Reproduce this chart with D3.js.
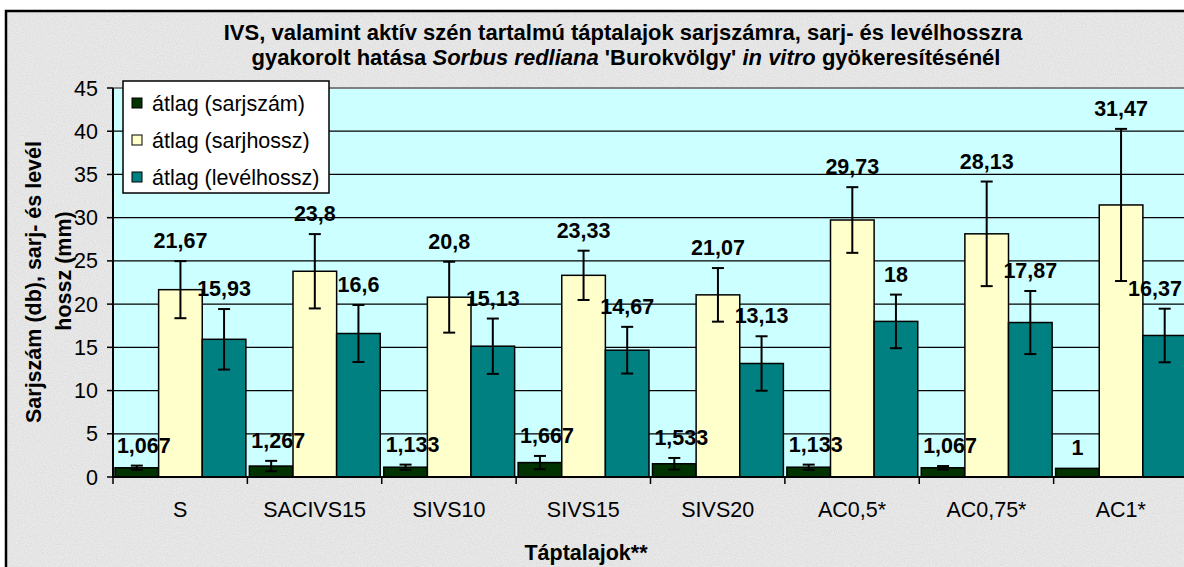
<!DOCTYPE html>
<html>
<head>
<meta charset="utf-8">
<script src="https://cdn.jsdelivr.net/npm/d3@7"></script>
<style>
  body { margin: 0; background: #ffffff; }
  svg text { font-family: "Liberation Sans", Arial, sans-serif; }
</style>
</head>
<body>
<script>
var categories = ['S', 'SACIVS15', 'SIVS10', 'SIVS15', 'SIVS20', 'AC0,5*', 'AC0,75*', 'AC1*'];
var seriesNames = ['átlag (sarjszám)', 'átlag (sarjhossz)', 'átlag (levélhossz)'];
var sarjszam = [1.067, 1.267, 1.133, 1.667, 1.533, 1.133, 1.067, 1];
var sarjhossz = [21.67, 23.8, 20.8, 23.33, 21.07, 29.73, 28.13, 31.47];
var levelhossz = [15.93, 16.6, 15.13, 14.67, 13.13, 18, 17.87, 16.37];
var errSarjszam = [0.25, 0.6, 0.3, 0.77, 0.67, 0.3, 0.2, 0];
var errSarjhossz = [3.3, 4.3, 4.1, 2.85, 3.1, 3.8, 6.05, 8.8];
var errLevelhossz = [3.5, 3.3, 3.2, 2.7, 3.15, 3.1, 3.65, 3.1];
var yTicks = [0, 5, 10, 15, 20, 25, 30, 35, 40, 45];

var colors = ['#003300', '#ffffcc', '#008080'];
var values = [sarjszam, sarjhossz, levelhossz];
var errors = [errSarjszam, errSarjhossz, errLevelhossz];

var W = 1184, H = 567;
var plot = {left: 113, right: 1188, top: 88, bottom: 477};
var FS = 21.5;

function place(x, y, rot) {
  return 'translate(' + x + ',' + y + ')' + (rot ? ' rotate(' + rot + ')' : '');
}

var svg = d3.select('body').append('svg')
    .attr('width', W)
    .attr('height', H);

// textured grey background
var defs = svg.append('defs');
var f = defs.append('filter').attr('id', 'paper')
    .attr('x', 0).attr('y', 0).attr('width', '100%').attr('height', '100%');
f.append('feTurbulence').attr('type', 'fractalNoise')
    .attr('baseFrequency', 0.9).attr('numOctaves', 2).attr('seed', 3);
f.append('feColorMatrix').attr('type', 'matrix')
    .attr('values', '0 0 0 0 0.5  0 0 0 0 0.5  0 0 0 0 0.5  0 0 0 -1.6 1.1');

svg.append('rect').attr('x', 0).attr('y', 0).attr('width', W).attr('height', H).attr('fill', '#ffffff');
svg.append('rect').attr('x', 6).attr('y', 11).attr('width', W).attr('height', H)
    .attr('fill', '#eaeaea');
svg.append('rect').attr('x', 6).attr('y', 11).attr('width', W).attr('height', H)
    .attr('filter', 'url(#paper)').attr('opacity', 0.35);
svg.append('rect').attr('x', 6).attr('y', 11).attr('width', W + 10).attr('height', H + 10)
    .attr('fill', 'none').attr('stroke', '#000').attr('stroke-width', 2.5);

// title
var title = svg.append('g').attr('font-weight', 'bold').attr('font-size', 22).attr('text-anchor', 'middle');
title.append('text').attr('transform', place(623, 40))
    .text('IVS, valamint aktív szén tartalmú táptalajok sarjszámra, sarj- és levélhosszra');
var t2 = title.append('text').attr('transform', place(626, 65));
t2.append('tspan').text('gyakorolt hatása ');
t2.append('tspan').attr('font-style', 'italic').text('Sorbus redliana');
t2.append('tspan').text(" 'Burokvölgy' ");
t2.append('tspan').attr('font-style', 'italic').text('in vitro');
t2.append('tspan').text(' gyökeresítésénél');

// scales
var y = d3.scaleLinear().domain([0, 45]).range([plot.bottom, plot.top]);
var x0 = d3.scaleBand().domain(categories).range([plot.left, plot.right]);
var x1 = d3.scaleBand().domain(d3.range(3)).range([2, x0.bandwidth() - 1.5]);

// plot area
svg.append('rect')
    .attr('x', plot.left).attr('y', plot.top)
    .attr('width', plot.right - plot.left).attr('height', plot.bottom - plot.top)
    .attr('fill', '#ccffff');

svg.append('g').selectAll('line')
  .data(yTicks.filter(function(t){ return t > 0 && t < 45; }))
  .enter().append('line')
    .attr('x1', plot.left).attr('x2', plot.right)
    .attr('y1', function(d){ return y(d); }).attr('y2', function(d){ return y(d); })
    .attr('stroke', '#000').attr('stroke-width', 1.3);

svg.append('line')
    .attr('x1', plot.left).attr('x2', plot.right)
    .attr('y1', plot.top).attr('y2', plot.top)
    .attr('stroke', '#808080').attr('stroke-width', 2);

// bars
var groups = svg.append('g').selectAll('g')
  .data(categories)
  .enter().append('g')
    .attr('transform', function(d){ return 'translate(' + x0(d) + ',0)'; });

function rows(d, i) {
  return values.map(function(v, s){ return {s: s, v: v[i], e: errors[s][i], gx: x0(d)}; });
}

groups.selectAll('rect')
  .data(rows)
  .enter().append('rect')
    .attr('x', function(d){ return x1(d.s); })
    .attr('y', function(d){ return y(d.v); })
    .attr('width', x1.bandwidth())
    .attr('height', function(d){ return y(0) - y(d.v); })
    .attr('fill', function(d){ return colors[d.s]; })
    .attr('stroke', '#000').attr('stroke-width', 1.5);

// error bars
var eb = groups.selectAll('g.err')
  .data(rows)
  .enter().append('g').attr('class', 'err')
    .attr('stroke', '#000').attr('stroke-width', 2);
eb.filter(function(d){ return d.e > 0; }).append('line')
    .attr('x1', function(d){ return x1(d.s) + x1.bandwidth() / 2; })
    .attr('x2', function(d){ return x1(d.s) + x1.bandwidth() / 2; })
    .attr('y1', function(d){ return y(d.v + d.e); })
    .attr('y2', function(d){ return y(d.v - d.e); });
eb.filter(function(d){ return d.e > 0; }).selectAll('line.cap')
  .data(function(d){ return [d.v + d.e, d.v - d.e].map(function(c){ return {s: d.s, c: c}; }); })
  .enter().append('line').attr('class', 'cap')
    .attr('x1', function(d){ return x1(d.s) + x1.bandwidth() / 2 - 6; })
    .attr('x2', function(d){ return x1(d.s) + x1.bandwidth() / 2 + 6; })
    .attr('y1', function(d){ return y(d.c); })
    .attr('y2', function(d){ return y(d.c); });

// data labels
groups.selectAll('text')
  .data(rows)
  .enter().append('text')
    .attr('transform', function(d){
      var cx = x1(d.s) + x1.bandwidth() / 2 + (d.s === 0 && d.v !== 1 ? 7 : 0);
      cx = Math.min(cx, W - d.gx - 29);
      return place(cx, y(d.v + d.e) - 13);
    })
    .attr('text-anchor', 'middle')
    .attr('font-weight', 'bold').attr('font-size', FS)
    .text(function(d){ return String(d.v).replace('.', ','); });

// axes
var yAxis = svg.append('g');
yAxis.append('line')
    .attr('x1', plot.left).attr('x2', plot.left)
    .attr('y1', plot.top).attr('y2', plot.bottom)
    .attr('stroke', '#000').attr('stroke-width', 2);
yAxis.selectAll('line.tick')
  .data(yTicks).enter().append('line').attr('class', 'tick')
    .attr('x1', plot.left - 6).attr('x2', plot.left)
    .attr('y1', function(d){ return y(d); }).attr('y2', function(d){ return y(d); })
    .attr('stroke', '#000').attr('stroke-width', 1.5);
yAxis.selectAll('text')
  .data(yTicks).enter().append('text')
    .attr('transform', function(d){ return place(98, y(d) + 7.5); })
    .attr('text-anchor', 'end').attr('font-size', FS)
    .text(function(d){ return d; });

var xAxis = svg.append('g');
xAxis.append('line')
    .attr('x1', plot.left).attr('x2', plot.right)
    .attr('y1', plot.bottom).attr('y2', plot.bottom)
    .attr('stroke', '#000').attr('stroke-width', 2);
xAxis.selectAll('line.tick')
  .data(categories).enter().append('line').attr('class', 'tick')
    .attr('x1', function(d){ return x0(d); }).attr('x2', function(d){ return x0(d); })
    .attr('y1', plot.bottom).attr('y2', plot.bottom + 7)
    .attr('stroke', '#000').attr('stroke-width', 1.5);
xAxis.selectAll('text')
  .data(categories).enter().append('text')
    .attr('transform', function(d){ return place(x0(d) + x0.bandwidth() / 2, 517); })
    .attr('text-anchor', 'middle').attr('font-size', FS)
    .text(function(d){ return d; });

svg.append('text')
    .attr('transform', place(586, 560))
    .attr('text-anchor', 'middle').attr('font-weight', 'bold').attr('font-size', FS)
    .text('Táptalajok**');

svg.append('text')
    .attr('transform', place(41, 282, -90))
    .attr('text-anchor', 'middle').attr('font-weight', 'bold').attr('font-size', FS)
    .text('Sarjszám (db), sarj- és levél');
svg.append('text')
    .attr('transform', place(71, 271, -90))
    .attr('text-anchor', 'middle').attr('font-weight', 'bold').attr('font-size', FS)
    .text('hossz (mm)');

// legend
var legend = svg.append('g').attr('transform', 'translate(123,81)');
legend.append('rect').attr('width', 206).attr('height', 112)
    .attr('fill', '#ffffff').attr('stroke', '#000').attr('stroke-width', 1.5);
var li = legend.selectAll('g.item')
  .data(seriesNames).enter().append('g').attr('class', 'item')
    .attr('transform', function(d, i){ return 'translate(0,' + (22 + i * 37) + ')'; });
li.append('rect')
    .attr('x', 9).attr('y', -5).attr('width', 10).attr('height', 10)
    .attr('fill', function(d, i){ return colors[i]; })
    .attr('stroke', '#000').attr('stroke-width', 1);
li.append('text')
    .attr('transform', place(29, 7.5))
    .attr('font-size', FS)
    .text(function(d){ return d; });
</script>
</body>
</html>
